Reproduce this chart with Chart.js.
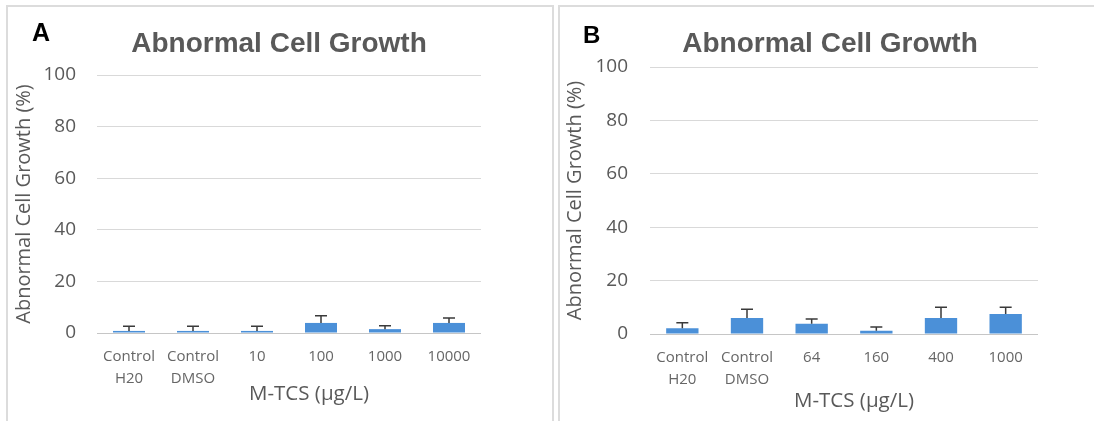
<!DOCTYPE html>
<html>
<head>
<meta charset="utf-8">
<script src="https://cdn.jsdelivr.net/npm/chart.js@4"></script>
<style>
  html, body { margin: 0; padding: 0; background: #fff; }
  #page { position: relative; width: 1094px; height: 421px; overflow: hidden; background: #fff; }
  .frame { position: absolute; border-top: 2px solid #dcdcdc; border-left: 2px solid #dcdcdc; }
  #frame-a { left: 6px; top: 5px; width: 544px; height: 420px; border-right: 2px solid #dcdcdc; }
  #frame-b { left: 558px; top: 5px; width: 540px; height: 420px; }
  canvas { position: absolute; }
  #chart-a { left: 7px; top: 6px; }
  #chart-b { left: 560px; top: 7px; }
</style>
</head>
<body>
<div id="page">
  <div class="frame" id="frame-a"></div>
  <div class="frame" id="frame-b"></div>
  <canvas id="chart-a" width="544" height="415"></canvas>
  <canvas id="chart-b" width="534" height="414"></canvas>
</div>
<script>
// panel A
const categoriesA = [["Control", "H20"], ["Control", "DMSO"], "10", "100", "1000", "10000"];
const valuesA = [0.8, 0.8, 0.8, 3.9, 1.5, 3.9];
const errorsA = [1.8, 1.8, 1.8, 2.8, 1.3, 1.9];

// panel B
const categoriesB = [["Control", "H20"], ["Control", "DMSO"], "64", "160", "400", "1000"];
const valuesB = [2.2, 6, 3.8, 1.2, 6, 7.5];
const errorsB = [2, 3.3, 1.8, 1.4, 4, 2.5];

const yTicks = [0, 20, 40, 60, 80, 100];
const chartTitle = "Abnormal Cell Growth";
const yTitle = "Abnormal Cell Growth (%)";
const xTitle = "M-TCS (µg/L)";

const FONT = "'Open Sans', sans-serif";
const TEXT = "#595959";

// upper error bars (T shape) drawn from the bar top
const errorBars = {
  id: "errorBars",
  afterDatasetsDraw(chart, args, opts) {
    const { ctx, scales } = chart;
    const meta = chart.getDatasetMeta(0);
    const vals = chart.data.datasets[0].data;
    ctx.save();
    ctx.strokeStyle = "#3a3a3a";
    ctx.lineWidth = 1.5;
    meta.data.forEach((bar, i) => {
      const yTop = scales.y.getPixelForValue(vals[i] + opts.errors[i]);
      ctx.beginPath();
      ctx.moveTo(bar.x, bar.y);
      ctx.lineTo(bar.x, yTop);
      ctx.moveTo(bar.x - 6, yTop);
      ctx.lineTo(bar.x + 6, yTop);
      ctx.stroke();
    });
    ctx.restore();
  },
};

// chart title, x title and panel letter (Excel puts these off-centre)
const panelText = {
  id: "panelText",
  afterDraw(chart, args, opts) {
    const { ctx } = chart;
    ctx.save();
    ctx.textBaseline = "alphabetic";
    ctx.fillStyle = "#000";
    ctx.font = `bold ${opts.letterSize}px 'Liberation Sans', Arial, sans-serif`;
    ctx.textAlign = "left";
    ctx.fillText(opts.letter, opts.letterX, opts.letterY);
    ctx.fillStyle = TEXT;
    ctx.textAlign = "center";
    ctx.font = "bold 28px 'Liberation Sans', Arial, sans-serif";
    ctx.fillText(chartTitle, opts.titleX, opts.titleY);
    ctx.font = `20.5px ${FONT}`;
    ctx.fillText(xTitle, opts.xTitleX, opts.xTitleY);
    ctx.restore();
  },
};

function makeChart(el, cats, vals, errs, cfg) {
  return new Chart(el, {
    type: "bar",
    data: {
      labels: cats,
      datasets: [
        {
          data: vals,
          backgroundColor: "#4b90d8",
          borderWidth: 0,
          categoryPercentage: 1,
          barPercentage: 0.5,
        },
      ],
    },
    plugins: [errorBars, panelText],
    options: {
      responsive: false,
      animation: false,
      events: [],
      layout: { padding: { left: 0, top: cfg.top, right: cfg.right, bottom: 0 } },
      plugins: {
        legend: { display: false },
        tooltip: { enabled: false },
        errorBars: { errors: errs },
        panelText: cfg.text,
      },
      scales: {
        x: {
          grid: { display: false, drawTicks: false },
          border: { display: false },
          ticks: {
            color: "#666",
            font: { family: FONT, size: 15, lineHeight: 1.47 },
            padding: 13,
            maxRotation: 0,
            autoSkip: false,
          },
          afterFit: (s) => { s.height = cfg.xHeight; },
        },
        y: {
          min: 0,
          max: 100,
          afterBuildTicks: (s) => { s.ticks = yTicks.map((v) => ({ value: v })); },
          grid: {
            drawTicks: false,
            color: (c) => (c.tick && c.tick.value === 0 ? "#c6c6c6" : "#d9d9d9"),
            lineWidth: 1,
          },
          border: { display: false },
          ticks: {
            color: TEXT,
            font: { family: FONT, size: 19 },
            padding: cfg.yTickPad,
          },
          title: {
            display: true,
            text: yTitle,
            color: TEXT,
            font: { family: FONT, size: 20, lineHeight: 1.2 },
            padding: { top: cfg.yTitlePad, bottom: 0 },
          },
          afterFit: (s) => { s.width = 90; },
        },
      },
    },
  });
}

makeChart(document.getElementById("chart-a"), categoriesA, valuesA, errorsA, {
  top: 69, right: 70, xHeight: 88, yTickPad: 21, yTitlePad: 5,
  text: {
    letter: "A", letterSize: 25, letterX: 25, letterY: 35,
    titleX: 272, titleY: 46, xTitleX: 302, xTitleY: 394,
  },
});

makeChart(document.getElementById("chart-b"), categoriesB, valuesB, errorsB, {
  top: 60, right: 56, xHeight: 87, yTickPad: 22, yTitlePad: 3.5,
  text: {
    letter: "B", letterSize: 24, letterX: 23, letterY: 36,
    titleX: 270, titleY: 45, xTitleX: 294, xTitleY: 400,
  },
});
</script>
</body>
</html>
